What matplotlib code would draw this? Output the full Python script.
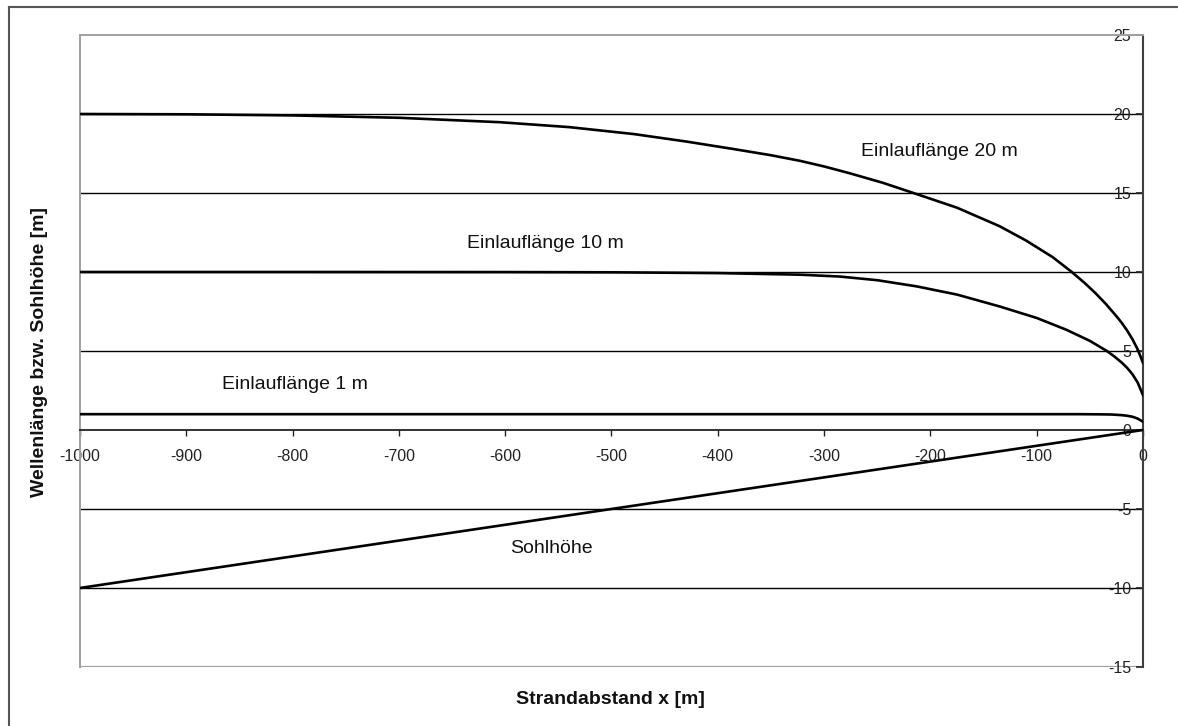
import matplotlib
matplotlib.use("Agg")
import matplotlib.pyplot as plt
from matplotlib.lines import Line2D

plt.rcParams['font.family'] = ['Liberation Sans', 'DejaVu Sans']

# Einlauflaenge 20 m
x_20 = [-1000, -900, -800, -700, -605, -540, -479, -430, -385, -350, -323, -300, -276, -245,
        -216, -175, -135, -110, -85, -67, -55, -45, -35, -25, -20, -15, -10, -5, 0]
y_20 = [20.0, 19.98, 19.91, 19.76, 19.48, 19.17, 18.73, 18.26, 17.78, 17.39, 17.04, 16.68, 16.25, 15.65,
        15.0, 14.07, 12.9, 11.99, 10.94, 10.0, 9.31, 8.68, 7.98, 7.2, 6.78, 6.3, 5.75, 5.1, 4.25]

# Einlauflaenge 10 m
x_10 = [-1000, -800, -600, -500, -400, -323, -285, -250, -213, -175, -135, -100, -72, -50,
        -34, -27, -20, -15, -10, -5, 0]
y_10 = [10.0, 10.0, 9.995, 9.98, 9.93, 9.83, 9.71, 9.48, 9.09, 8.57, 7.82, 7.09, 6.34, 5.64,
        5.0, 4.655, 4.265, 3.935, 3.535, 3.0, 2.2]

# Einlauflaenge 1 m
x_1 = [-1000, -200, -60, -40, -30, -20, -15, -10, -5, 0]
y_1 = [1.0, 1.0, 1.0, 0.99, 0.98, 0.94, 0.9, 0.84, 0.72, 0.52]

# Sohlhoehe
x_sohle = [-1000, 0]
y_sohle = [-10, 0]

x_ticks = list(range(-1000, 1, 100))
y_ticks = list(range(-15, 26, 5))

labels = ["Einlauflänge 20 m", "Einlauflänge 10 m", "Einlauflänge 1 m", "Sohlhöhe"]
label_pos = [(-265, 17.6), (-636, 11.8), (-866, 2.9), (-595, -7.5)]

fig = plt.figure(figsize=(11.78, 7.26), dpi=100)
ax = fig.add_axes([0.0679, 0.0813, 0.9024, 0.8705])

# horizontal grid lines
for yv in y_ticks:
    if yv in (-15, 0, 25):
        continue
    ax.axhline(yv, color='black', lw=1.0, zorder=1)
ax.axhline(-15, color='#a0a0a0', lw=1.6, zorder=1)

lw = 1.9
ax.plot(x_20, y_20, color='black', lw=lw, zorder=3, solid_joinstyle='round')
ax.plot(x_10, y_10, color='black', lw=lw, zorder=3, solid_joinstyle='round')
ax.plot(x_1, y_1, color='black', lw=lw, zorder=3, solid_joinstyle='round')
ax.plot(x_sohle, y_sohle, color='black', lw=lw, zorder=3)

for txt, (xp, yp) in zip(labels, label_pos):
    ax.text(xp, yp, txt, fontsize=14, ha='left', va='center', color='#111111')

ax.set_xlim(-1000, 0)
ax.set_ylim(-15, 25)

# x axis through y=0
ax.spines['bottom'].set_position(('data', 0))
ax.spines['bottom'].set_color('#222222')
ax.spines['bottom'].set_linewidth(1.3)
ax.spines['left'].set_color('#a0a0a0')
ax.spines['left'].set_linewidth(1.4)
ax.spines['top'].set_color('#a0a0a0')
ax.spines['top'].set_linewidth(1.4)
ax.spines['right'].set_color('#404040')
ax.spines['right'].set_linewidth(1.5)

ax.set_xticks(x_ticks)
ax.set_xticklabels([str(v) for v in x_ticks])
ax.tick_params(axis='x', direction='out', length=4, width=1.0, pad=10,
               labelsize=11.5, colors='#222222')

ax.set_yticks(y_ticks)
ax.set_yticklabels([str(v) for v in y_ticks])
ax.yaxis.set_ticks_position('right')
ax.tick_params(axis='y', direction='in', length=5, width=1.2, pad=-8.6,
               labelsize=11.5, colors='#222222', labelright=True, labelleft=False)
for lab in ax.get_yticklabels():
    lab.set_horizontalalignment('right')

fig.text(0.5185, 1 - 700 / 726, "Strandabstand x [m]", fontsize=14, fontweight='bold',
         ha='center', va='center', color='#111111')
fig.text(40 / 1178, 1 - 352 / 726, "Wellenlänge bzw. Sohlhöhe [m]", fontsize=14,
         fontweight='bold', rotation=90, ha='center', va='center', color='#111111')

# outer frame (left and top edges)
fig.add_artist(Line2D([9 / 1178, 9 / 1178], [0, 1 - 7 / 726], transform=fig.transFigure,
                      color='#555555', lw=1.5))
fig.add_artist(Line2D([9 / 1178, 1], [1 - 7 / 726, 1 - 7 / 726], transform=fig.transFigure,
                      color='#555555', lw=1.5))

fig.savefig("out.png", dpi=100)
